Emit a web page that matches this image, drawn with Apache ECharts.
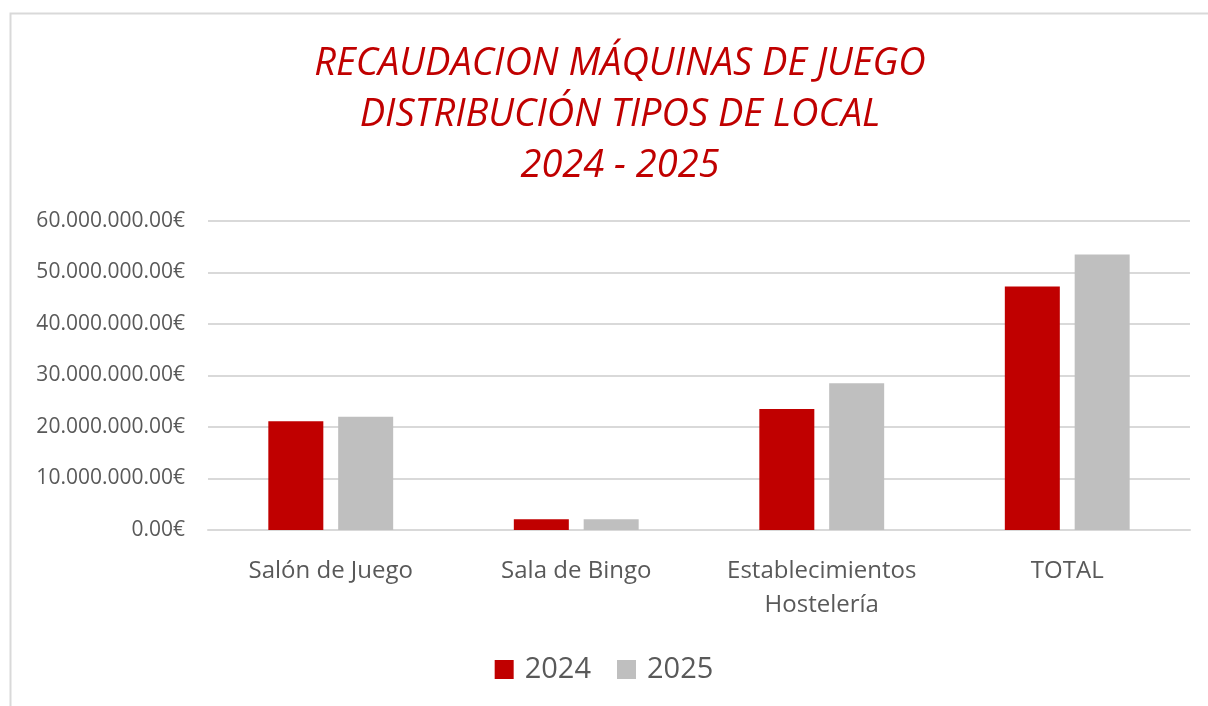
<!DOCTYPE html>
<html>
<head>
<meta charset="utf-8">
<script src="https://cdn.jsdelivr.net/npm/echarts@6/dist/echarts.min.js"></script>
<style>
  html, body { margin: 0; padding: 0; background: #fff; }
  #chart { width: 1208px; height: 706px; }
</style>
</head>
<body>
<div id="chart"></div>
<script>
  // datos
  const categories = ['Salón de Juego', 'Sala de Bingo', 'Establecimientos\nHostelería', 'TOTAL']
  const values2024 = [21100000, 2100000, 23500000, 47300000]
  const values2025 = [22000000, 2100000, 28500000, 53500000]
  const seriesNames = ['2024', '2025']

  const fmtEuro = (v) => {
    const parts = v.toFixed(2).split('.')
    const ent = parts[0].replace(/\B(?=(\d{3})+(?!\d))/g, '.')
    return ent + '.' + parts[1] + '€'
  }

  const chart = echarts.init(document.getElementById('chart'))
  const font = 'Open Sans'

  chart.setOption({
    animation: false,
    backgroundColor: '#fff',
    title: {
      text: 'RECAUDACION MÁQUINAS DE JUEGO\nDISTRIBUCIÓN TIPOS DE LOCAL\n2024 - 2025',
      left: 615,
      textAlign: 'center',
      top: 34,
      textStyle: {
        color: '#C00000',
        fontStyle: 'italic',
        fontWeight: 'normal',
        fontFamily: font,
        fontSize: 38,
        lineHeight: 51
      }
    },
    // marco del gráfico
    graphic: [{
      type: 'rect',
      left: 8,
      top: 11,
      shape: { width: 1220, height: 720 },
      style: { fill: 'none', stroke: '#d9d9d9', lineWidth: 2 },
      silent: true
    }],
    legend: {
      data: seriesNames,
      left: 'center',
      top: 650,
      itemWidth: 19,
      itemHeight: 19,
      itemGap: 26,
      icon: 'rect',
      textStyle: { color: '#595959', fontSize: 29, fontFamily: font, padding: [0, 0, 0, 6] }
    },
    grid: { left: 208, right: 18, top: 221, bottom: 176 },
    xAxis: {
      type: 'category',
      data: categories,
      axisLine: { lineStyle: { color: '#d9d9d9', width: 2 } },
      axisTick: { show: false },
      axisLabel: {
        interval: 0,
        hideOverlap: false,
        color: '#595959',
        fontSize: 24,
        fontFamily: font,
        lineHeight: 34,
        margin: 24
      }
    },
    yAxis: {
      type: 'value',
      min: 0,
      max: 60000000,
      interval: 10000000,
      axisLine: { show: false },
      axisTick: { show: false },
      splitLine: { lineStyle: { color: '#d9d9d9', width: 2 } },
      axisLabel: {
        color: '#595959',
        fontSize: 21,
        fontFamily: font,
        margin: 23,
        formatter: fmtEuro
      }
    },
    series: [
      {
        name: seriesNames[0],
        type: 'bar',
        data: values2024,
        barWidth: 55,
        barGap: '27%',
        itemStyle: { color: '#C00000' }
      },
      {
        name: seriesNames[1],
        type: 'bar',
        data: values2025,
        barWidth: 55,
        itemStyle: { color: '#BFBFBF' }
      }
    ]
  })
</script>
</body>
</html>
